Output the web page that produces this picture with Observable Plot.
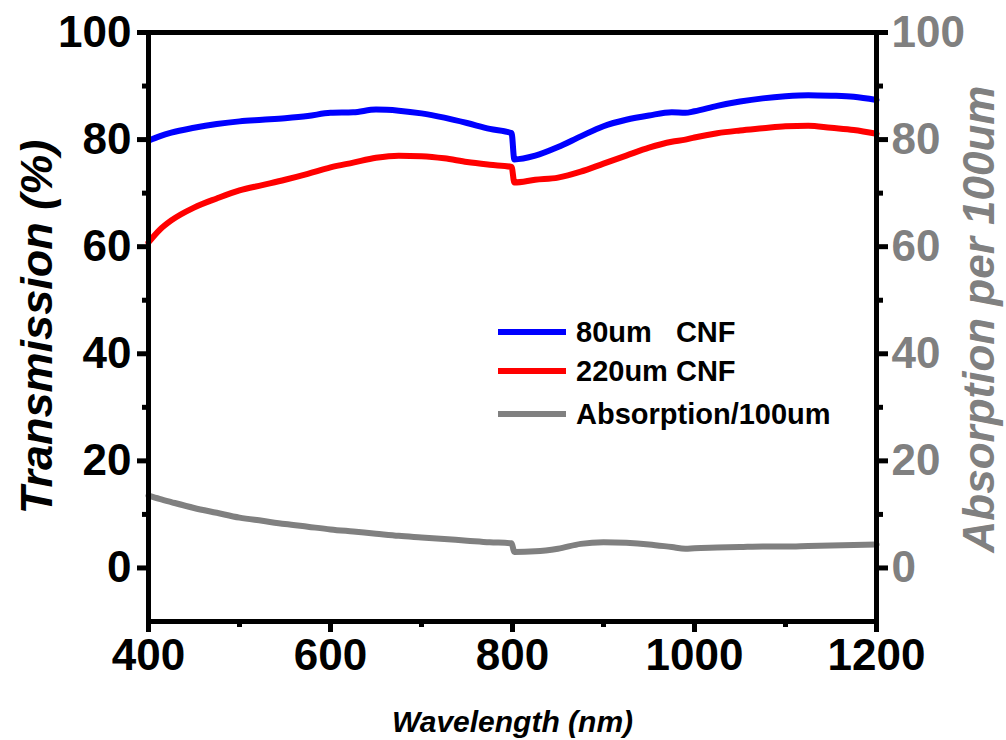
<!DOCTYPE html>
<html>
<head>
<meta charset="utf-8">
<script src="https://cdn.jsdelivr.net/npm/d3@7"></script>
<script src="https://cdn.jsdelivr.net/npm/@observablehq/plot@0.6"></script>
<style>
  html, body { margin: 0; padding: 0; background: #fff; }
  #wrap { position: relative; width: 1006px; height: 740px; font-family: 'Liberation Sans', Arial, sans-serif; }
  #legend { position: absolute; left: 498px; top: 312px; font-weight: bold; font-size: 29px; color: #000; }
  .row { position: absolute; left: 0; height: 40px; display: flex; align-items: center; white-space: pre; }
  .sw { width: 68px; height: 6px; margin-right: 10px; }
</style>
</head>
<body>
<div id="wrap">
  <div id="chart"></div>
  <div id="legend"></div>
</div>
<script>
// Wavelength grid (nm)
const wavelength = [400,412,425,450,475,500,525,550,575,600,625,650,675,700,725,750,775,799,802,825,850,875,900,925,950,975,990,1000,1025,1050,1075,1100,1125,1150,1175,1200];
// Transmission (%) of 80um CNF
const cnf80 = [79.8,80.6,81.3,82.2,82.9,83.4,83.7,84.0,84.4,85.0,85.1,85.6,85.4,84.9,84.1,83.1,82.0,81.2,76.3,77.0,78.6,80.6,82.5,83.7,84.5,85.1,85.0,85.3,86.3,87.1,87.7,88.1,88.3,88.2,88.0,87.4];
// Transmission (%) of 220um CNF
const cnf220 = [60.8,63.1,64.9,67.3,69.0,70.5,71.5,72.5,73.6,74.8,75.7,76.6,77.0,76.9,76.5,75.8,75.3,74.9,72.0,72.5,72.9,74.0,75.5,77.0,78.5,79.6,80.0,80.4,81.2,81.7,82.1,82.5,82.6,82.2,81.8,81.1];
// Absorption per 100um
const absorption = [13.5,12.9,12.3,11.2,10.3,9.4,8.8,8.2,7.7,7.2,6.8,6.4,6.0,5.7,5.4,5.1,4.8,4.6,3.0,3.1,3.6,4.5,4.8,4.7,4.4,3.9,3.6,3.7,3.8,3.9,4.0,4.0,4.1,4.2,4.3,4.4];

const seriesNames = ["80um   CNF", "220um CNF", "Absorption/100um"];
const seriesColors = ["#0000ff", "#ff0000", "#808080"];
const seriesValues = [cnf80, cnf220, absorption];

const xTicks = [400, 600, 800, 1000, 1200];
const xMinor = [500, 700, 900, 1100];
const yTicks = [0, 20, 40, 60, 80, 100];
const yMinor = [10, 30, 50, 70, 90];

const rows = [];
seriesNames.forEach((name, i) => {
  wavelength.forEach((w, j) => rows.push({series: name, wavelength: w, value: seriesValues[i][j]}));
});

const font = "'Liberation Sans', Arial, sans-serif";
const fmt = d => String(d);

const chart = Plot.plot({
  width: 1006,
  height: 740,
  marginLeft: 148,
  marginRight: 130,
  marginTop: 32,
  marginBottom: 119,
  x: {domain: [400, 1200]},
  y: {domain: [-10, 100]},
  color: {domain: seriesNames, range: seriesColors},
  style: {fontFamily: font, fontWeight: "bold", background: "#fff", color: "#000", overflow: "visible"},
  marks: [
    Plot.line(rows, {x: "wavelength", y: "value", z: "series", stroke: "series", strokeWidth: 6, curve: "monotone-x"}),
    Plot.frame({stroke: "#000", strokeWidth: 5}),
    Plot.axisX({ticks: xTicks, tickFormat: fmt, tickSize: 11, strokeWidth: 5, tickPadding: 6, fontSize: 44, fontWeight: "bold", label: null}),
    Plot.axisX({ticks: xMinor, tickSize: 6, strokeWidth: 5, tickFormat: () => "", label: null}),
    Plot.axisY({ticks: yTicks, tickFormat: fmt, tickSize: 11, strokeWidth: 5, tickPadding: 6, fontSize: 44, fontWeight: "bold", label: null}),
    Plot.axisY({ticks: yMinor, tickSize: 6, strokeWidth: 5, tickFormat: () => "", label: null}),
    Plot.axisY({anchor: "right", ticks: yTicks, tickFormat: fmt, tickSize: 11, strokeWidth: 5, tickPadding: 4, fontSize: 44, fontWeight: "bold", stroke: "#000", fill: "#808080", label: null}),
    Plot.axisY({anchor: "right", ticks: yMinor, tickSize: 6, strokeWidth: 5, tickFormat: () => "", label: null}),
    Plot.text(["Transmission (%)"], {frameAnchor: "left", dx: -111, rotate: -90, fontSize: 45, fontWeight: "bold", fontStyle: "italic", fill: "#000", textAnchor: "middle", lineAnchor: "middle"}),
    Plot.text(["Absorption per 100um"], {frameAnchor: "right", dx: 103, dy: -8, rotate: -90, fontSize: 44, fontWeight: "bold", fontStyle: "italic", fill: "#808080", textAnchor: "middle", lineAnchor: "middle"}),
    Plot.text(["Wavelength (nm)"], {frameAnchor: "bottom", dy: 101, fontSize: 30, fontWeight: "bold", fontStyle: "italic", fill: "#000", textAnchor: "middle", lineAnchor: "middle"})
  ]
});
document.getElementById("chart").appendChild(chart);

const legend = document.getElementById("legend");
const legendTops = [0, 39, 82];
seriesNames.forEach((name, i) => {
  const row = document.createElement("div");
  row.className = "row";
  row.style.top = legendTops[i] + "px";
  const sw = document.createElement("div");
  sw.className = "sw";
  sw.style.background = seriesColors[i];
  const label = document.createElement("span");
  label.textContent = name;
  row.appendChild(sw);
  row.appendChild(label);
  legend.appendChild(row);
});
</script>
</body>
</html>
